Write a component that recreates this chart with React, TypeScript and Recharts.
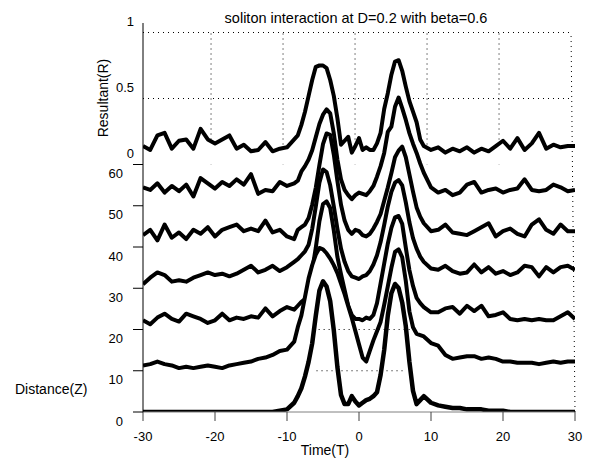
import React from "react";
import { ComposedChart, Area, XAxis, YAxis, ReferenceLine } from "recharts";

/* soliton interaction waterfall: R(T) at several propagation distances Z */

const times = [
  -30, -29, -28, -27, -26, -25, -24, -23, -22, -21, -20, -19, -18, -17, -16, -15,
  -14, -13, -12, -11, -10, -9,
  -8.5, -8, -7.5, -7, -6.5, -6, -5.5, -5, -4.5, -4, -3.5, -3, -2.5, -2, -1.5, -1,
  -0.5, 0, 0.5, 1, 1.5, 2, 2.5, 3, 3.5, 4, 4.5, 5, 5.5, 6, 6.5, 7, 7.5, 8, 8.5,
  9, 10, 11, 12, 13, 14, 15, 16, 17, 18, 19, 20, 21, 22, 23, 24, 25, 26, 27, 28,
  29, 30,
];

const distances = [0, 10, 20, 30, 40, 50, 60];

// resultant R (same sample points as `times`)
const rZ0 = [
  0, 0, 0, 0, 0, 0, 0, 0, 0, 0, 0, 0, 0, 0, 0, 0, 0, 0, 0, 0.01, 0.02, 0.07,
  0.12, 0.18, 0.27, 0.38, 0.52, 0.73, 0.92, 0.99, 0.95, 0.84, 0.62, 0.34, 0.13,
  0.06, 0.06, 0.12, 0.08, 0.05, 0.07, 0.09, 0.1, 0.12, 0.15, 0.28, 0.47, 0.73,
  0.9, 0.97, 0.94, 0.83, 0.65, 0.38, 0.16, 0.06, 0.09,
  0.12, 0.07, 0.05, 0.04, 0.03, 0.03, 0.02, 0.02, 0.02, 0.01, 0.01, 0.01, 0, 0,
  0, 0, 0, 0, 0, 0, 0, 0,
];
const rZ10 = [
  0.04, 0.05, 0.07, 0.05, 0.04, 0.02, 0.03, 0.02, 0.03, 0.04, 0.03, 0.02, 0.04,
  0.05, 0.06, 0.07, 0.09, 0.1, 0.12, 0.15, 0.16, 0.22,
  0.33, 0.42, 0.56, 0.7, 0.8, 0.88, 0.93, 0.92, 0.89, 0.85, 0.8, 0.74, 0.66, 0.58,
  0.49, 0.4, 0.3, 0.2, 0.1, 0.07, 0.15, 0.23, 0.3, 0.37, 0.5, 0.64, 0.78, 0.9,
  0.92, 0.86, 0.68, 0.45, 0.33, 0.28, 0.27,
  0.26, 0.21, 0.19, 0.12, 0.09, 0.1, 0.11, 0.11, 0.09, 0.1, 0.09, 0.07, 0.07,
  0.06, 0.06, 0.06, 0.05, 0.06, 0.07, 0.06, 0.07, 0.07,
];
const rZ20 = [
  0.07, 0.04, 0.09, 0.12, 0.08, 0.06, 0.12, 0.1, 0.08, 0.05, 0.07, 0.12, 0.07,
  0.09, 0.08, 0.1, 0.09, 0.16, 0.1, 0.14, 0.17, 0.15,
  0.18, 0.21, 0.23, 0.3, 0.45, 0.62, 0.82, 0.95, 0.97, 0.92, 0.75, 0.55, 0.42,
  0.3, 0.18, 0.11, 0.08, 0.08, 0.07, 0.09, 0.08, 0.11, 0.2, 0.35, 0.5, 0.65, 0.77,
  0.85, 0.86, 0.8, 0.62, 0.45, 0.33, 0.24, 0.2,
  0.17, 0.13, 0.13, 0.16, 0.17, 0.12, 0.18, 0.14, 0.18, 0.1, 0.11, 0.13, 0.08,
  0.07, 0.08, 0.07, 0.08, 0.07, 0.07, 0.1, 0.13, 0.08,
];
const rZ30 = [
  0.03, 0.08, 0.12, 0.1, 0.05, 0.06, 0.05, 0.08, 0.1, 0.12, 0.1, 0.11, 0.09, 0.11,
  0.14, 0.17, 0.12, 0.14, 0.17, 0.13, 0.16, 0.2,
  0.22, 0.25, 0.28, 0.33, 0.45, 0.62, 0.8, 0.9, 0.88, 0.78, 0.62, 0.45, 0.3, 0.2,
  0.13, 0.09, 0.08, 0.07, 0.09, 0.1, 0.13, 0.18, 0.25, 0.35, 0.48, 0.62, 0.73,
  0.8, 0.82, 0.78, 0.65, 0.5, 0.38, 0.3, 0.24,
  0.2, 0.15, 0.14, 0.17, 0.13, 0.11, 0.12, 0.18, 0.12, 0.16, 0.11, 0.13, 0.1,
  0.12, 0.17, 0.16, 0.09, 0.16, 0.12, 0.16, 0.17, 0.14,
];
const rZ40 = [
  0.09, 0.13, 0.05, 0.17, 0.07, 0.11, 0.06, 0.13, 0.1, 0.15, 0.08, 0.13, 0.15,
  0.17, 0.12, 0.14, 0.12, 0.2, 0.11, 0.13, 0.08, 0.06,
  0.13, 0.15, 0.17, 0.22, 0.32, 0.45, 0.62, 0.78, 0.86, 0.85, 0.7, 0.5, 0.32, 0.2,
  0.13, 0.1, 0.13, 0.12, 0.09, 0.08, 0.1, 0.14, 0.19, 0.25, 0.35, 0.45, 0.56,
  0.68, 0.73, 0.76, 0.68, 0.55, 0.42, 0.3, 0.23,
  0.18, 0.12, 0.13, 0.17, 0.11, 0.1, 0.09, 0.12, 0.15, 0.18, 0.08, 0.12, 0.14,
  0.1, 0.08, 0.17, 0.21, 0.13, 0.1, 0.17, 0.12, 0.12,
];
const rZ50 = [
  0.14, 0.12, 0.17, 0.1, 0.15, 0.11, 0.16, 0.07, 0.21, 0.17, 0.13, 0.18, 0.15,
  0.2, 0.16, 0.24, 0.09, 0.12, 0.11, 0.18, 0.15, 0.17,
  0.19, 0.26, 0.3, 0.35, 0.42, 0.52, 0.62, 0.69, 0.73, 0.7, 0.55, 0.35, 0.2, 0.12,
  0.08, 0.05, 0.08, 0.1, 0.09, 0.08, 0.11, 0.15, 0.22, 0.3, 0.4, 0.56, 0.6, 0.75,
  0.82, 0.74, 0.65, 0.55, 0.47, 0.4, 0.32,
  0.25, 0.14, 0.1, 0.12, 0.08, 0.1, 0.16, 0.18, 0.1, 0.12, 0.13, 0.1, 0.12, 0.13,
  0.2, 0.12, 0.11, 0.12, 0.16, 0.14, 0.11, 0.12,
];
const rZ60 = [
  0.14, 0.11, 0.22, 0.24, 0.12, 0.18, 0.19, 0.12, 0.27, 0.19, 0.16, 0.19, 0.22,
  0.12, 0.15, 0.1, 0.11, 0.17, 0.1, 0.12, 0.13, 0.19,
  0.22, 0.3, 0.4, 0.52, 0.64, 0.74, 0.75, 0.75, 0.73, 0.64, 0.52, 0.35, 0.15, 0.18,
  0.21, 0.09, 0.14, 0.2, 0.11, 0.13, 0.11, 0.11, 0.16, 0.24, 0.42, 0.54, 0.68,
  0.78, 0.79, 0.71, 0.59, 0.48, 0.4, 0.32, 0.19,
  0.14, 0.11, 0.13, 0.09, 0.12, 0.1, 0.13, 0.09, 0.12, 0.1, 0.14, 0.18, 0.12, 0.2,
  0.11, 0.16, 0.24, 0.12, 0.15, 0.13, 0.14, 0.14,
];

const traces = [rZ0, rZ10, rZ20, rZ30, rZ40, rZ50, rZ60];

const tTicks = [-30, -20, -10, 0, 10, 20, 30];
const zTicks = [0, 10, 20, 30, 40, 50, 60];
const rTicks = [0, 0.5, 1];
const rTickLabels = ["0", "0.5", "1"];

// one unit of R drawn as this many units of Z (waterfall offset)
const R_TO_Z = 32;
const Z_BACK = 60;
// back wall sits a little left of the front in the 3-D view
const BACK_SHIFT = -0.55;
// R tick labels sit slightly above the back wall levels
const R_LABEL_LIFT = 2.8;
// top end of the vertical axis line
const AXIS_TOP = 94.3;

// plot geometry (margins below)
const W = 592;
const H = 464;
const PLOT_TOP = 16;
const PLOT_BOTTOM = 412;
const PLOT_LEFT = 143;
const Z_MAX = 96;

const chartData = times.map((t, i) => {
  const row: Record<string, number> = { t };
  distances.forEach((z, k) => {
    row[`z${z}`] = z + traces[k][i] * R_TO_Z;
  });
  return row;
});

const zToPx = (v: number) =>
  PLOT_BOTTOM - (v / Z_MAX) * (PLOT_BOTTOM - PLOT_TOP);

const FONT = '"Liberation Sans", Arial, Helvetica, sans-serif';
const dotted = { stroke: "#000", strokeDasharray: "1 4", strokeWidth: 1 };

export default function App() {
  const backOrder = [...distances].reverse();
  return (
    <div
      style={{
        position: "absolute",
        left: 0,
        top: 0,
        width: W,
        height: H,
        background: "#fff",
        fontFamily: FONT,
      }}
    >
      <ComposedChart
        width={W}
        height={H}
        data={chartData}
        margin={{ top: PLOT_TOP, right: 17, bottom: 22, left: PLOT_LEFT - 60 }}
      >
        <XAxis
          dataKey="t"
          type="number"
          domain={[-30, 30]}
          ticks={tTicks}
          interval={0}
          allowDataOverflow
          height={30}
          tickSize={9}
          tickMargin={11}
          axisLine={{ stroke: "#808080" }}
          tickLine={{ stroke: "#404040" }}
          tick={{ fill: "#000", fontSize: 13 }}
        />
        <YAxis
          yAxisId="z"
          type="number"
          width={60}
          domain={[0, Z_MAX]}
          ticks={zTicks}
          interval={0}
          allowDataOverflow
          tickSize={10}
          tickMargin={10}
          axisLine={false}
          tickLine={{ stroke: "#000" }}
          tick={{ fill: "#000", fontSize: 13, dy: 9 }}
        />

        {/* back wall grid, hidden behind the traces */}
        {rTicks.slice(1).map((r) => (
          <ReferenceLine
            key={`h${r}`}
            yAxisId="z"
            zIndex={50}
            ifOverflow="visible"
            segment={[
              { x: -30, y: Z_BACK + r * R_TO_Z },
              { x: 30 + BACK_SHIFT, y: Z_BACK + r * R_TO_Z },
            ]}
            {...dotted}
          />
        ))}
        {tTicks.slice(1, -1).map((t) => (
          <ReferenceLine
            key={`v${t}`}
            yAxisId="z"
            zIndex={50}
            ifOverflow="visible"
            segment={[
              { x: t + BACK_SHIFT, y: Z_BACK },
              { x: t + BACK_SHIFT, y: Z_BACK + R_TO_Z },
            ]}
            {...dotted}
          />
        ))}

        {/* waterfall traces, back to front */}
        {backOrder.map((z, k) => (
          <Area
            key={z}
            yAxisId="z"
            zIndex={101 + k}
            dataKey={`z${z}`}
            baseValue={z}
            type="linear"
            stroke="#000"
            strokeWidth={z === 0 ? 4.5 : 4}
            strokeLinejoin="round"
            fill="#fff"
            fillOpacity={1}
            dot={false}
            activeDot={false}
            isAnimationActive={false}
          />
        ))}

        {/* floor grid pieces visible between the peaks, and the right edge */}
        <ReferenceLine
          yAxisId="z"
          zIndex={900}
          segment={[{ x: -6.3, y: 20 }, { x: 7.5, y: 20 }]}
          {...dotted}
        />
        <ReferenceLine
          yAxisId="z"
          zIndex={900}
          segment={[{ x: -5.9, y: 10 }, { x: 6.6, y: 10 }]}
          {...dotted}
        />
        <ReferenceLine
          yAxisId="z"
          zIndex={900}
          ifOverflow="visible"
          segment={[
            { x: 30, y: 0 },
            { x: 30 + BACK_SHIFT, y: Z_BACK + R_TO_Z },
          ]}
          {...dotted}
        />
        {/* left axis line */}
        <ReferenceLine
          yAxisId="z"
          zIndex={950}
          ifOverflow="visible"
          segment={[
            { x: -30, y: 0 },
            { x: -30, y: AXIS_TOP },
          ]}
          stroke="#000"
          strokeWidth={1}
        />
      </ComposedChart>

      <svg
        width={W}
        height={H}
        style={{ position: "absolute", left: 0, top: 0, pointerEvents: "none" }}
        fontFamily={FONT}
      >
        {rTicks.map((r, i) => (
          <text
            key={r}
            x={PLOT_LEFT - 9}
            y={zToPx(Z_BACK + r * R_TO_Z + R_LABEL_LIFT)}
            dy="0.355em"
            textAnchor="end"
            fontSize={13}
            fill="#000"
          >
            {rTickLabels[i]}
          </text>
        ))}
        <text x={356} y={23} textAnchor="middle" fontSize={14.5} fill="#000">
          soliton interaction at D=0.2 with beta=0.6
        </text>
        <text x={15} y={394} fontSize={14} fill="#000">
          Distance(Z)
        </text>
        <text x={325} y={455} textAnchor="middle" fontSize={14} fill="#000">
          Time(T)
        </text>
        <text
          x={0}
          y={0}
          transform="translate(108 98) rotate(-90)"
          textAnchor="middle"
          fontSize={14}
          fill="#000"
        >
          Resultant(R)
        </text>
      </svg>
    </div>
  );
}
